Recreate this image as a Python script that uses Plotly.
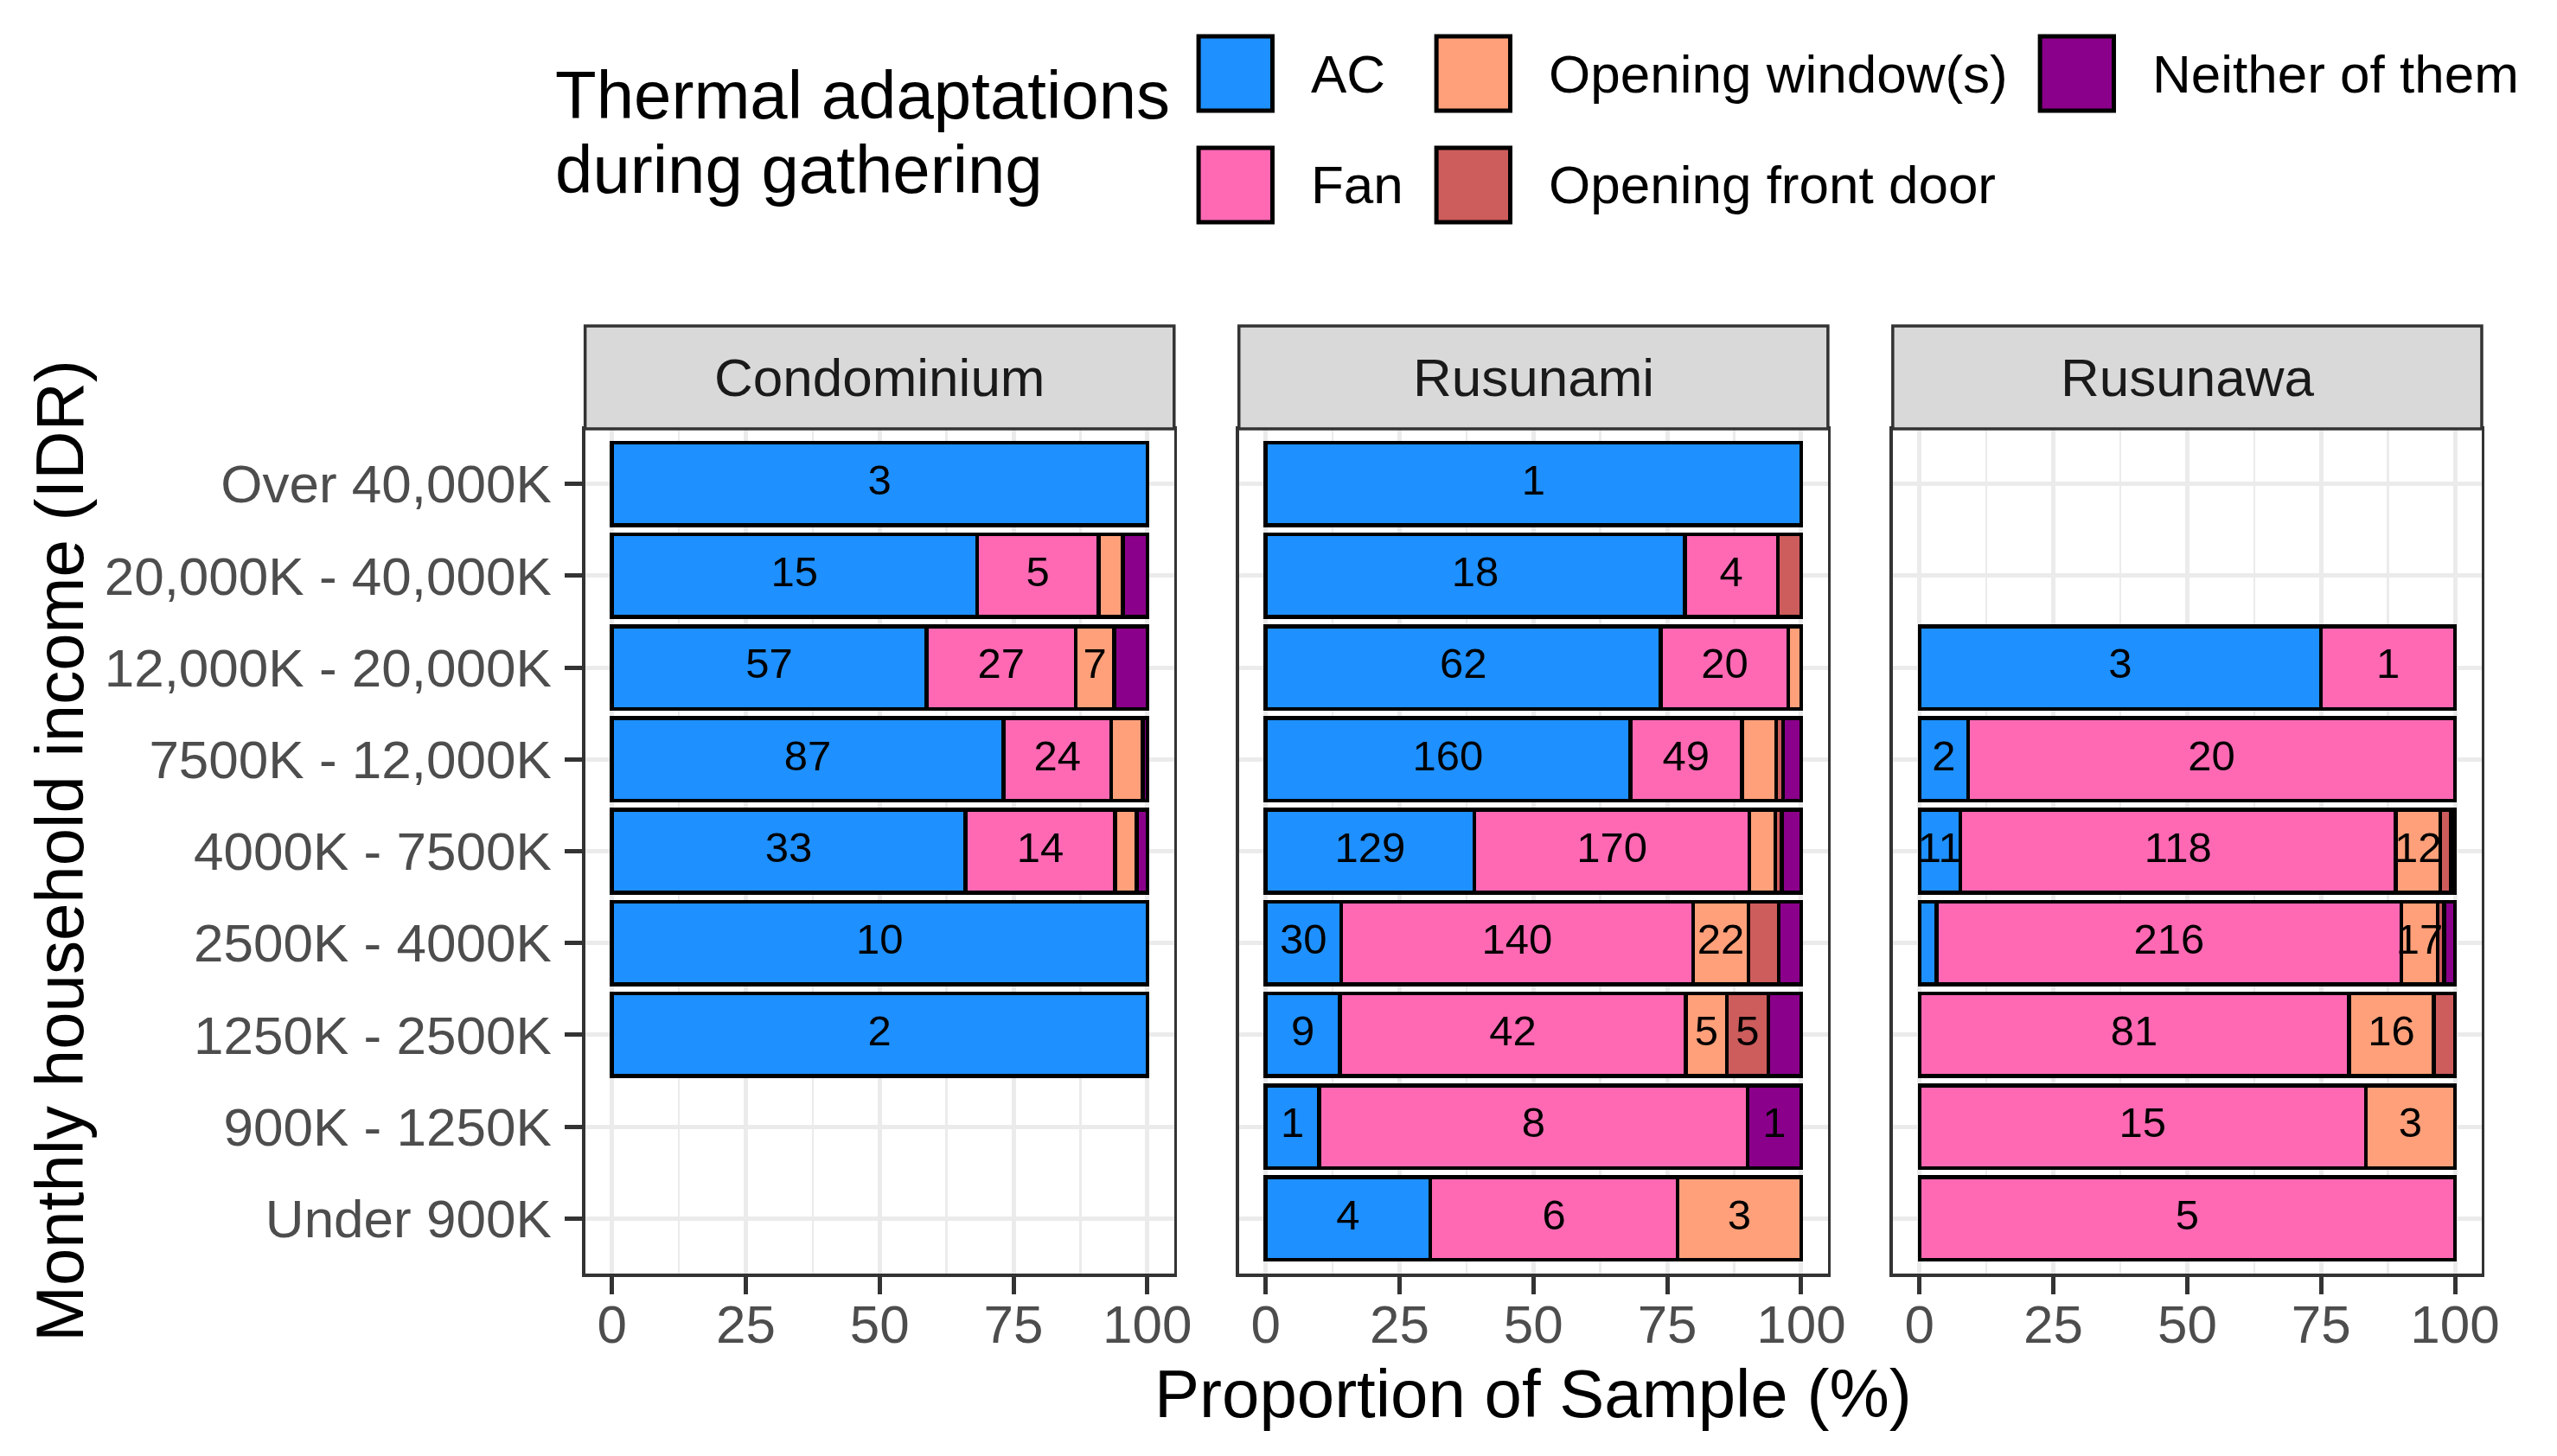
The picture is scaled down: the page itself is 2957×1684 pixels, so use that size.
import plotly.graph_objects as go

# ---------------- data ----------------
income_levels = ["Over 40,000K", "20,000K - 40,000K", "12,000K - 20,000K",
                 "7500K - 12,000K", "4000K - 7500K", "2500K - 4000K",
                 "1250K - 2500K", "900K - 1250K", "Under 900K"]
panels = ["Condominium", "Rusunami", "Rusunawa"]
adaptations = ["AC", "Fan", "Opening window(s)", "Opening front door", "Neither of them"]
colors = ["#1E90FF", "#FF69B4", "#FFA07A", "#CD5C5C", "#8B008B"]

# counts per income level (top -> bottom)
condo_ac      = [3, 15, 57, 87, 33, 10, 2, 0, 0]
condo_fan     = [0, 5, 27, 24, 14, 0, 0, 0, 0]
condo_window  = [0, 1, 7, 7, 2, 0, 0, 0, 0]
condo_door    = [0, 0, 0, 0, 0, 0, 0, 0, 0]
condo_neither = [0, 1, 6, 1, 1, 0, 0, 0, 0]

rusunami_ac      = [1, 18, 62, 160, 129, 30, 9, 1, 4]
rusunami_fan     = [0, 4, 20, 49, 170, 140, 42, 8, 6]
rusunami_window  = [0, 0, 2, 15, 16, 22, 5, 0, 3]
rusunami_door    = [0, 1, 0, 3, 4, 12, 5, 0, 0]
rusunami_neither = [0, 0, 0, 8, 12, 9, 4, 1, 0]

rusunawa_ac      = [0, 0, 3, 2, 11, 8, 0, 0, 0]
rusunawa_fan     = [0, 0, 1, 20, 118, 216, 81, 15, 5]
rusunawa_window  = [0, 0, 0, 0, 12, 17, 16, 3, 0]
rusunawa_door    = [0, 0, 0, 0, 3, 3, 4, 0, 0]
rusunawa_neither = [0, 0, 0, 0, 1, 5, 0, 0, 0]

counts = {
    "Condominium": [condo_ac, condo_fan, condo_window, condo_door, condo_neither],
    "Rusunami": [rusunami_ac, rusunami_fan, rusunami_window, rusunami_door, rusunami_neither],
    "Rusunawa": [rusunawa_ac, rusunawa_fan, rusunawa_window, rusunawa_door, rusunawa_neither],
}
x_ticks = [0, 25, 50, 75, 100]
label_min_pct = 6.5

# ---------------- layout constants ----------------
W, H = 2957, 1684
FONT = "Liberation Sans, Arial, Helvetica, sans-serif"
def fx(px): return px / W
def fy(py): return 1 - py / H

panel_left = [681.5, 1443.0, 2204.5]
panel_w = 686.0
panel_top, panel_bot = 496.0, 1473.0
strip_top = 377.0

fig = go.Figure()

for i, panel in enumerate(panels):
    ax = "" if i == 0 else str(i + 1)
    series = counts[panel]
    totals = [sum(s[k] for s in series) for k in range(len(income_levels))]
    cum = [0.0] * len(income_levels)
    lx, ly, lt = [], [], []
    for a, name in enumerate(adaptations):
        pct = []
        for k in range(len(income_levels)):
            c = series[a][k]
            if c > 0 and totals[k] > 0:
                p = c / totals[k] * 100
                pct.append(p)
                if p >= label_min_pct:
                    lx.append(cum[k] + p / 2)
                    ly.append(income_levels[k])
                    lt.append(str(c))
                cum[k] += p
            else:
                pct.append(None)
        fig.add_trace(go.Bar(
            x=pct, y=income_levels, orientation="h", name=name,
            marker=dict(color=colors[a], line=dict(color="black", width=4.5)),
            width=0.9, xaxis="x" + ax, yaxis="y" + ax, showlegend=False,
            hoverinfo="skip"))
    fig.add_trace(go.Scatter(
        x=lx, y=ly, text=lt, mode="text", xaxis="x" + ax, yaxis="y" + ax,
        textfont=dict(size=49, color="black", family=FONT),
        textposition="middle center", showlegend=False, cliponaxis=False,
        hoverinfo="skip"))

    x0, x1 = panel_left[i], panel_left[i] + panel_w
    fig.update_layout(**{
        "xaxis" + ax: dict(
            domain=[fx(x0), fx(x1)], range=[-5, 105], anchor="y" + ax,
            tickmode="array", tickvals=x_ticks, ticktext=[str(t) for t in x_ticks],
            ticks="outside", ticklen=20, tickwidth=5, tickcolor="#333333",
            ticklabelstandoff=-18,
            tickfont=dict(size=62, color="#4D4D4D", family=FONT),
            showgrid=True, gridcolor="#EBEBEB", gridwidth=5,
            minor=dict(dtick=12.5, tick0=0, showgrid=True, gridcolor="#EBEBEB",
                       gridwidth=2.5, ticks=""),
            showline=True, mirror=True, linecolor="#333333", linewidth=3.5,
            zeroline=False, fixedrange=True),
        "yaxis" + ax: dict(
            domain=[fy(panel_bot), fy(panel_top)], anchor="x" + ax,
            type="category", categoryorder="array",
            categoryarray=list(reversed(income_levels)), range=[-0.6, 8.6],
            showgrid=True, gridcolor="#EBEBEB", gridwidth=5,
            showline=True, mirror=True, linecolor="#333333", linewidth=3.5,
            ticks="outside" if i == 0 else "", ticklen=20, tickwidth=5,
            tickcolor="#333333", showticklabels=(i == 0), ticklabelstandoff=3,
            tickfont=dict(size=62, color="#4D4D4D", family=FONT),
            zeroline=False, fixedrange=True),
    })
    # facet strip
    fig.add_shape(type="rect", xref="paper", yref="paper",
                  x0=fx(x0), x1=fx(x1), y0=fy(panel_top), y1=fy(strip_top),
                  fillcolor="#D9D9D9", line=dict(color="#333333", width=3.5),
                  layer="above")
    fig.add_annotation(x=fx((x0 + x1) / 2), y=fy((strip_top + panel_top) / 2),
                       xref="paper", yref="paper", text=panel, showarrow=False,
                       xanchor="center", yanchor="middle",
                       font=dict(size=62, color="#1A1A1A", family=FONT))

# axis titles
fig.add_annotation(x=fx((panel_left[0] + panel_left[2] + panel_w) / 2), y=fy(1612),
                   xref="paper", yref="paper", text="Proportion of Sample (%)",
                   showarrow=False, xanchor="center", yanchor="middle",
                   font=dict(size=78, color="black", family=FONT))
fig.add_annotation(x=fx(69), y=fy((panel_top + panel_bot) / 2),
                   xref="paper", yref="paper", text="Monthly household income (IDR)",
                   showarrow=False, textangle=-90, xanchor="center", yanchor="middle",
                   font=dict(size=78, color="black", family=FONT))

# legend (drawn manually, ggplot-style, column-major 2 rows)
legend_cols_x = [1396, 1673, 2376]
legend_rows_y = [42, 171]
key = 86
for idx, name in enumerate(adaptations):
    c, r = idx // 2, idx % 2
    kx, ky = legend_cols_x[c], legend_rows_y[r]
    fig.add_shape(type="rect", xref="paper", yref="paper",
                  x0=fx(kx), x1=fx(kx + key), y0=fy(ky + key), y1=fy(ky),
                  fillcolor=colors[idx], line=dict(color="black", width=5))
    fig.add_annotation(x=fx(kx + key + 43), y=fy(ky + key / 2), xref="paper", yref="paper",
                       text=name, showarrow=False, xanchor="left", yanchor="middle",
                       font=dict(size=62, color="black", family=FONT))
fig.add_annotation(x=fx(645), y=fy(110), xref="paper", yref="paper",
                   text="Thermal adaptations", showarrow=False, xanchor="left",
                   yanchor="middle", font=dict(size=78, color="black", family=FONT))
fig.add_annotation(x=fx(645), y=fy(196), xref="paper", yref="paper",
                   text="during gathering", showarrow=False, xanchor="left",
                   yanchor="middle", font=dict(size=78, color="black", family=FONT))

fig.update_layout(
    width=W, height=H, autosize=False, barmode="stack", bargap=0.1,
    margin=dict(l=0, r=0, t=0, b=0, pad=0),
    paper_bgcolor="white", plot_bgcolor="white", showlegend=False,
    font=dict(family=FONT),
)

fig.write_html("out.html", config={"displayModeBar": False, "staticPlot": True},
               post_script="document.body.style.margin='0';document.body.style.overflow='hidden';")
